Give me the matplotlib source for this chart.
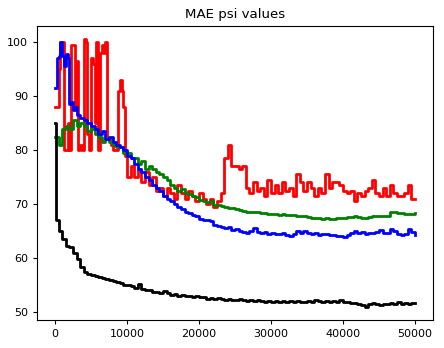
import numpy as np
import matplotlib
matplotlib.use('Agg')
import matplotlib.pyplot as plt

# red series: finer sampling in the first 10000 steps
red_x = list(range(0, 10001, 250)) + list(range(10500, 50001, 500))
red_y = [88, 88, 95, 100, 100, 80, 80, 85, 80, 99.5, 99.5, 88, 96.5, 80, 81, 80,
         100.5, 100, 83, 80, 97, 96, 85, 100, 80, 98, 99.5, 98, 100, 82, 82, 81,
         80, 80, 80, 91, 93, 91, 88, 79, 75,
         77, 75, 76.5, 74, 76, 73.5, 75, 72.5, 73, 71.5, 73, 72, 71, 73.5, 72, 71,
         72.5, 71.5, 70.5, 72, 71, 70, 71, 69.5, 70.5, 72, 78.5, 81, 77, 77, 76.5,
         77, 73, 72, 74, 72.5, 73, 71.5, 74.5, 72, 73.5, 72, 74, 72.5, 73, 71.5,
         75.5, 74, 72.5, 74, 73, 71.5, 73, 72, 75.5, 73, 74, 74, 73.5, 72.5, 72,
         72.5, 70.5, 72, 71.5, 72.5, 73, 74.5, 72, 71.5, 73, 71.5, 73.5, 72, 71.5,
         71.5, 72, 73.5, 71, 71]

green_x = list(range(0, 50001, 500))
green_y = [82.5, 81, 84, 84.5, 84, 85.5, 84.5, 85, 84.5, 83.5, 84, 83, 82.5, 81.5,
           82, 81.5, 81, 80.5, 80.5, 79.5, 79.5, 78.5, 78.5, 77.5, 78, 76.5, 77,
           76.5, 76, 75.5, 75, 74.5, 73.5, 73, 72.5, 72.8, 72, 71.8, 71.5, 71.3,
           70.8, 70.5, 70.3, 70.5, 69.8, 69.8, 69.6, 69.5, 69.3, 69.2, 69, 68.9,
           68.8, 68.6, 68.5, 68.6, 68.5, 68.3, 68.3, 68.2, 68.2, 68.1, 68, 68.1,
           68, 67.9, 68, 67.8, 67.8, 67.7, 67.6, 67.5, 67.5, 67.4, 67.3, 67.4,
           67.3, 67.3, 67.4, 67.5, 67.4, 67.6, 67.6, 67.7, 67.6, 67.5, 67.5, 67.6,
           67.7, 67.8, 67.7, 67.8, 67.8, 68.5, 68.5, 68.4, 68.3, 68.2, 68.1, 68.2,
           68.4]

blue_x = [0, 250, 500, 750, 1000, 1250, 1500, 1750, 2000, 2250, 2500, 2750] + \
    list(range(3000, 50001, 500))
blue_y = [91.5, 97, 97.5, 100, 97.5, 95.5, 97.8, 97, 88.5, 89, 87.5, 88,
          86.5, 86, 85.5, 85, 84.5, 84, 83, 83.5, 82, 82.5, 81.5, 81, 80.5, 80,
          79, 78.5, 77.5, 76.5, 76, 75, 74.5, 73.5, 73, 72.5, 71.5, 71, 70.5, 70,
          69.5, 69, 68.5, 68.3, 68, 67.8, 67.3, 67.1, 67, 66.8, 66.2, 66, 65.8,
          65.5, 65.8, 65.2, 65.3, 65, 64.8, 64.6, 65, 65.6, 64.8, 64.7, 64.8,
          64.5, 64.7, 64.5, 64.4, 64.6, 64.2, 64.1, 64.5, 65, 64.6, 65.1, 64.7,
          64.4, 64.6, 64.3, 64.5, 64.4, 64.2, 64.3, 64, 64, 63.9, 64.3, 64.6,
          65.1, 64.7, 64.8, 64.5, 64.7, 64.6, 64.8, 65.2, 64.7, 64.6, 65.4, 65,
          64.5, 64.3, 64.4, 65.4, 64.8, 64.2]

black_x = [0, 200] + list(range(500, 50001, 500))
black_y = [85, 67, 65, 63.5, 62.3, 62, 61, 59.8, 58.3, 57.5, 57, 56.8, 56.6, 56.5,
           56.3, 56.2, 56, 55.7, 55.5, 55.3, 55, 55, 54.8, 54.5, 55.2, 54.2, 54,
           54, 53.8, 53.8, 53.5, 53.9, 53.5, 53.2, 53.3, 53, 53.2, 52.9, 53, 52.8,
           53, 52.7, 52.8, 52.5, 52.6, 52.4, 52.6, 52.5, 52.3, 52.4, 52.3, 52.2,
           52.4, 52.2, 52.1, 52.3, 52, 52.2, 52, 51.9, 52.1, 51.9, 52, 51.8, 52,
           51.9, 52.1, 51.8, 52, 51.9, 51.8, 52, 51.8, 52.2, 52, 51.8, 52.1, 51.8,
           52, 51.9, 52.2, 51.8, 51.9, 51.6, 51.7, 51.4, 51.3, 51, 51.4, 51.7,
           51.4, 51.3, 51.5, 51.4, 51.7, 51.5, 51.9, 51.4, 51.7, 51.5, 51.7, 51.6]

fig = plt.figure(figsize=(4.44, 3.48), dpi=100)
ax = fig.add_axes([0.0833, 0.0805, 0.8917, 0.8445])

# step drawing gives the blocky look of the original
ax.plot(red_x, red_y, color="red", lw=2, drawstyle='steps-post')
ax.plot(green_x, green_y, color="green", lw=2, drawstyle='steps-post')
ax.plot(blue_x, blue_y, color="blue", lw=2, drawstyle='steps-post')
ax.plot(black_x, black_y, color="black", lw=2, drawstyle='steps-post')

ax.set_xticks([0, 10000, 20000, 30000, 40000, 50000])
ax.set_yticks([50, 60, 70, 80, 90, 100])
ax.tick_params(labelsize=8, length=2.8)
ax.set_title('MAE psi values', fontsize=9.6)

fig.savefig('out.png', dpi=100)
